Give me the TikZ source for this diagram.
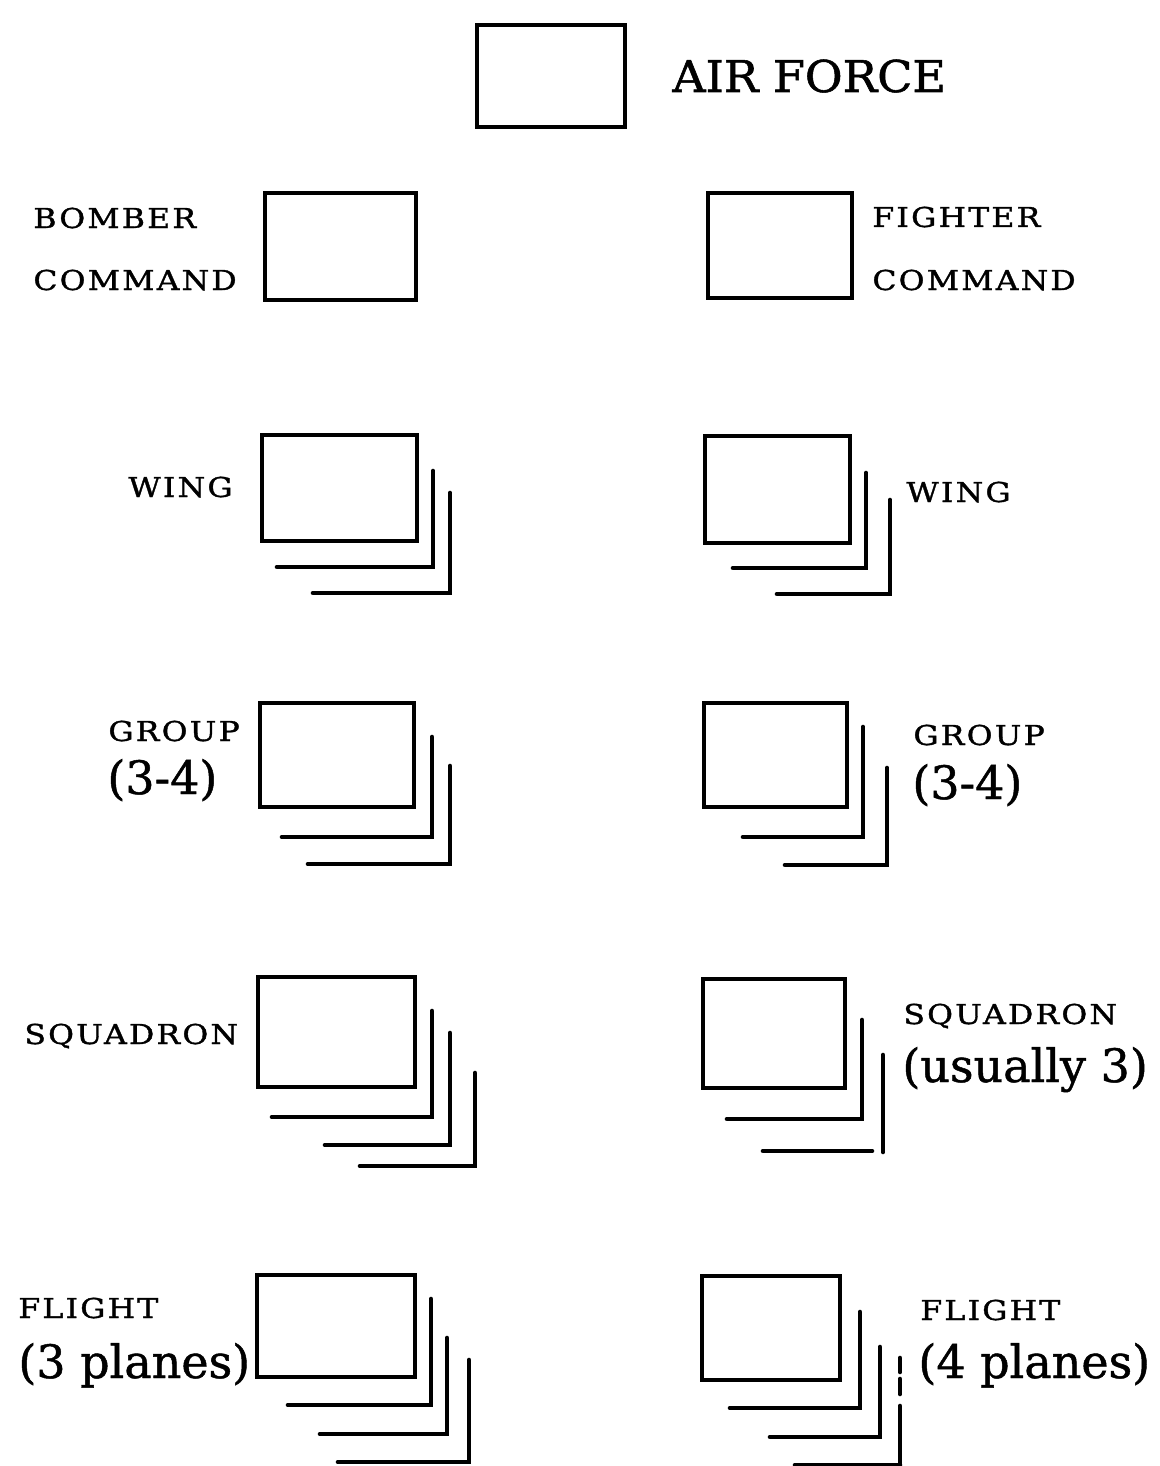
\documentclass[tikz,border=0pt]{standalone}
\usepackage{fontspec}
\setmainfont{DejaVu Serif}
\newfontfamily\capfont[LetterSpace=7,FakeBold=1.2]{DejaVu Serif}
\newfontfamily\affont[FakeBold=1.2]{DejaVu Serif}
\newfontfamily\lowfont[FakeBold=1]{DejaVu Serif}
\newcommand\capstr[1]{\scalebox{1.15}[1]{#1}}
\newcommand\afstr[1]{\scalebox{1.05}[1]{#1}}
\tikzset{
  ubox/.style={draw=black, line width=2.3pt, rectangle, inner sep=0pt, fill=none},
  stk/.style={draw=black, line width=2.3pt, line cap=round},
  lbl/.style={anchor=base west, inner sep=0pt, font=\capfont\fontsize{13.7}{16}\selectfont},
  biglbl/.style={anchor=base west, inner sep=0pt, font=\lowfont\fontsize{23}{28}\selectfont},
  aflbl/.style={anchor=base west, inner sep=0pt, font=\affont\fontsize{21.9}{26}\selectfont}
}
\begin{document}
\begin{tikzpicture}[x=0.5pt,y=-0.5pt]
\useasboundingbox (0,0) rectangle (1160,1466);
\fill[white] (0,0) rectangle (1160,1466);

% --- AIR FORCE ---
\node[ubox, minimum width=74pt, minimum height=51pt] (af) at (551,76) {};
\node[aflbl] (aft) at (672,92) {\afstr{AIR FORCE}};

% --- Commands ---
\node[ubox, minimum width=75.5pt, minimum height=53.5pt] (bc) at (340.5,246.5) {};
\node[lbl] (bct1) at (33,228) {\capstr{BOMBER}};
\node[lbl] (bct2) at (33,290) {\capstr{COMMAND}};

\node[ubox, minimum width=72pt, minimum height=52.5pt] (fc) at (780,245.5) {};
\node[lbl] (fct1) at (872,227) {\capstr{FIGHTER}};
\node[lbl] (fct2) at (872,290) {\capstr{COMMAND}};

% --- Wing ---
\node[ubox, minimum width=77.5pt, minimum height=53pt] (wl) at (339.5,488) {};
\draw[stk] (277,567) -| (433,471);
\draw[stk] (313,593) -| (450,493);
\node[lbl] (wlt) at (128,497) {\capstr{WING}};

\node[ubox, minimum width=72.5pt, minimum height=53.5pt] (wr) at (777.5,489.5) {};
\draw[stk] (733,568) -| (866,473);
\draw[stk] (777,594) -| (890,500);
\node[lbl] (wrt) at (906,502) {\capstr{WING}};

% --- Group ---
\node[ubox, minimum width=77pt, minimum height=52pt] (gl) at (337,755) {};
\draw[stk] (282,837) -| (432,737);
\draw[stk] (308,864) -| (450,766);
\node[lbl] (glt1) at (108,741) {\capstr{GROUP}};
\node[biglbl] (glt2) at (107,794) {(3-4)};

\node[ubox, minimum width=71.5pt, minimum height=52pt] (gr) at (775.5,755) {};
\draw[stk] (743,837) -| (863,727);
\draw[stk] (785,865) -| (887,768);
\node[lbl] (grt1) at (913,745) {\capstr{GROUP}};
\node[biglbl] (grt2) at (912,799) {(3-4)};

% --- Squadron ---
\node[ubox, minimum width=78.5pt, minimum height=55pt] (sl) at (336.5,1032) {};
\draw[stk] (272,1117) -| (432,1011);
\draw[stk] (325,1145) -| (450,1033);
\draw[stk] (360,1166) -| (475,1073);
\node[lbl] (slt) at (24,1044) {\capstr{SQUADRON}};

\node[ubox, minimum width=71pt, minimum height=54.5pt] (sr) at (774,1033.5) {};
\draw[stk] (727,1119) -| (862,1020);
\draw[stk] (763,1151) -- (872,1151);
\draw[stk] (883,1055) -- (883,1152);
\node[lbl] (srt1) at (903,1024) {\capstr{SQUADRON}};
\node[biglbl] (srt2) at (902,1082) {(usually 3)};

% --- Flight ---
\node[ubox, minimum width=79pt, minimum height=51pt] (fl) at (336,1326) {};
\draw[stk] (288,1405) -| (431,1299);
\draw[stk] (320,1434) -| (447,1338);
\draw[stk] (338,1462) -| (469,1360);
\node[lbl] (flt1) at (18,1318) {\capstr{FLIGHT}};
\node[biglbl] (flt2) at (18,1378) {(3 planes)};

\node[ubox, minimum width=69pt, minimum height=52pt] (fr) at (771,1328) {};
\draw[stk] (730,1408) -| (860,1312);
\draw[stk] (770,1437) -| (880,1347);
\draw[stk] (900,1358) -- (900,1372);
\draw[stk] (900,1379) -- (900,1394);
\draw[stk] (900,1406) -- (900,1470);
\draw[stk] (795,1465) -- (900,1465);
\node[lbl] (frt1) at (920,1320) {\capstr{FLIGHT}};
\node[biglbl] (frt2) at (918,1378) {(4 planes)};
\end{tikzpicture}
\end{document}
